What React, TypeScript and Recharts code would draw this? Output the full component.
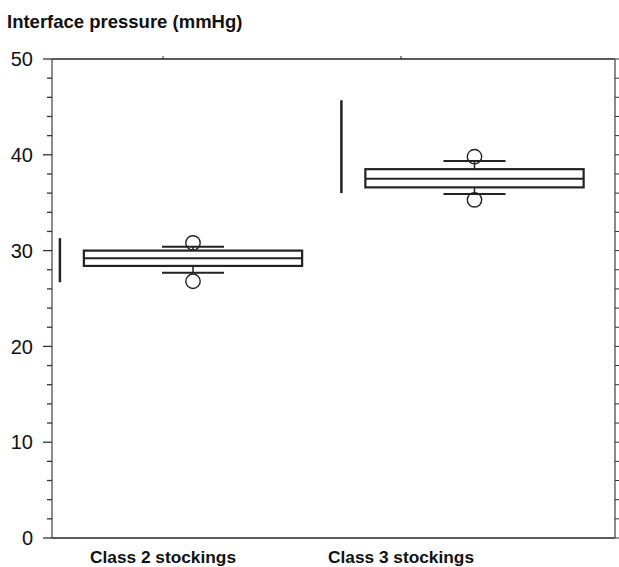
import { ComposedChart, Bar, Line, XAxis, YAxis } from 'recharts';

const categories = ['Class 2 stockings', 'Class 3 stockings'];
const q1 = [28.4, 36.6];
const median = [29.2, 37.5];
const q3 = [30.0, 38.5];
const whiskerLow = [27.7, 35.9];
const whiskerHigh = [30.4, 39.35];
const outlierLow = [26.8, 35.3];
const outlierHigh = [30.8, 39.8];
const rangeLow = [26.7, 36.0];
const rangeHigh = [31.3, 45.7];
const yTicks = [0, 2, 4, 6, 8, 10, 12, 14, 16, 18, 20, 22, 24, 26, 28, 30, 32, 34, 36, 38, 40, 42, 44, 46, 48, 50];

const FONT = '"Liberation Sans", Arial, sans-serif';
const INK = '#222';

const data = categories.map((name, i) => {
  const vals = [q1[i], median[i], q3[i], whiskerLow[i], whiskerHigh[i], outlierLow[i], outlierHigh[i], rangeLow[i], rangeHigh[i]];
  return {
    name,
    q1: q1[i], median: median[i], q3: q3[i],
    wLo: whiskerLow[i], wHi: whiskerHigh[i],
    oLo: outlierLow[i], oHi: outlierHigh[i],
    rLo: rangeLow[i], rHi: rangeHigh[i],
    lo: Math.min(...vals), hi: Math.max(...vals),
  };
});

// one ranged bar spans the whole extent; everything else is placed on its scale
const BoxShape = (props: any) => {
  const { x, y, width, height, payload: d } = props;
  const py = (v: number) => y + (height * (d.hi - v)) / (d.hi - d.lo);
  const cx = x + width / 2;
  const half = width * 0.387;
  const cap = width * 0.11;
  const rx = x + width * 0.028;
  return (
    <g>
      <line x1={rx} x2={rx} y1={py(d.rHi)} y2={py(d.rLo)} stroke={INK} strokeWidth={2.5} />
      <line x1={cx} x2={cx} y1={py(d.wHi)} y2={py(d.wLo)} stroke={INK} strokeWidth={1.5} />
      <line x1={cx - cap} x2={cx + cap} y1={py(d.wHi)} y2={py(d.wHi)} stroke={INK} strokeWidth={2} />
      <line x1={cx - cap} x2={cx + cap} y1={py(d.wLo)} y2={py(d.wLo)} stroke={INK} strokeWidth={2} />
      <circle cx={cx} cy={py(d.oHi)} r={7.2} fill="none" stroke={INK} strokeWidth={1.4} />
      <circle cx={cx} cy={py(d.oLo)} r={7.2} fill="none" stroke={INK} strokeWidth={1.4} />
      <rect x={cx - half} y={py(d.q3)} width={half * 2} height={py(d.q1) - py(d.q3)} fill="#fff" stroke={INK} strokeWidth={2.2} />
      <line x1={cx - half} x2={cx + half} y1={py(d.median)} y2={py(d.median)} stroke={INK} strokeWidth={2.2} />
    </g>
  );
};

const LeftTick = (props: any) => {
  const { x, y, payload } = props;
  const major = payload.value % 10 === 0;
  return (
    <g>
      <line x1={x} x2={x - (major ? 9 : 5)} y1={y} y2={y} stroke="#333" strokeWidth={1.3} />
      {major && (
        <text x={x - 19} y={y} dy="0.36em" textAnchor="end" fontSize={20} fill="#111" fontFamily={FONT}>
          {payload.value}
        </text>
      )}
    </g>
  );
};

export default function App() {
  return (
    <div style={{ position: 'absolute', left: 0, top: 0, width: 619, height: 567, background: '#fff', fontFamily: FONT }}>
      <div style={{ position: 'absolute', left: 7, top: 12, fontSize: 18.5, lineHeight: '20px', fontWeight: 700, color: '#111' }}>
        Interface pressure (mmHg)
      </div>
      <ComposedChart width={619} height={567} data={data} margin={{ top: 49, right: 0, bottom: 0, left: 0 }} barCategoryGap={0} barGap={0}>
        <XAxis xAxisId="main" dataKey="name" type="category" hide />
        <XAxis
          xAxisId="lab" dataKey="name" type="category" scale="point" padding={{ left: 111, right: 214 }}
          height={29} axisLine={{ stroke: INK, strokeWidth: 1.5 }} tickLine={false} tickSize={0} tickMargin={13}
          tick={{ fontSize: 17.3, fontWeight: 700, fill: '#111', fontFamily: FONT }} interval={0}
        />
        <XAxis
          xAxisId="top" orientation="top" dataKey="name" type="category" scale="point" padding={{ left: 111, right: 214 }}
          height={10} axisLine={{ stroke: INK, strokeWidth: 1.5 }} tickLine={{ stroke: INK }} tickSize={3}
          tickFormatter={() => ''} interval={0}
        />
        <YAxis
          yAxisId="l" type="number" domain={[0, 50]} ticks={yTicks} interval={0} width={52}
          axisLine={{ stroke: '#666', strokeWidth: 1.5 }} tickLine={false} tickSize={0} tickMargin={0} tick={<LeftTick />}
        />
        <YAxis
          yAxisId="r" orientation="right" type="number" domain={[0, 50]} ticks={yTicks} interval={0} width={4}
          axisLine={{ stroke: '#666', strokeWidth: 1.5 }} tickLine={{ stroke: '#333' }} tickSize={4} tickFormatter={() => ''}
        />
        <Bar xAxisId="main" yAxisId="l" dataKey={(d: any) => [d.lo, d.hi]} shape={<BoxShape />} isAnimationActive={false} />
        <Line xAxisId="lab" yAxisId="r" dataKey="median" stroke="none" dot={false} activeDot={false} isAnimationActive={false} />
        <Line xAxisId="top" yAxisId="r" dataKey="median" stroke="none" dot={false} activeDot={false} isAnimationActive={false} />
      </ComposedChart>
    </div>
  );
}
